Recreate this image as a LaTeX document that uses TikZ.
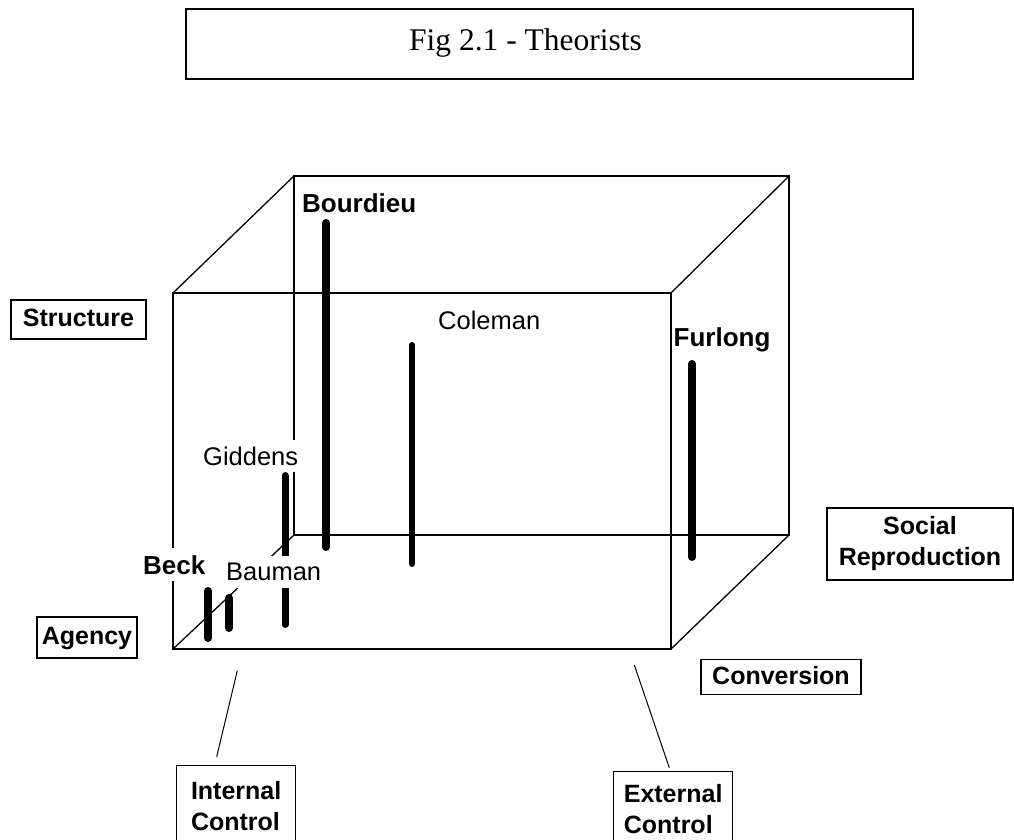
\documentclass[tikz,border=0pt]{standalone}
\usepackage{fontspec}
\setmainfont{Liberation Serif}
\newfontfamily\arialf{Liberation Sans}
\begin{document}
\begin{tikzpicture}[x=1pt,y=-1pt,
  edge/.style={line width=1.3pt},
  bar/.style={line width=8pt, line cap=round},
  conn/.style={line width=1pt},
  boxlab/.style={draw, line width=1.3pt, fill=white, inner sep=0pt,
    font=\arialf\bfseries\fontsize{25}{33}\selectfont, text height=18pt, text depth=4pt},
  multilab/.style={draw, line width=1.3pt, fill=white, inner sep=0pt, align=left,
    font=\arialf\bfseries\fontsize{25}{31}\selectfont},
  thbold/.style={fill=white, inner xsep=1pt, inner ysep=7pt, anchor=base west,
    font=\arialf\bfseries\fontsize{26}{28}\selectfont},
  threg/.style={fill=white, inner xsep=1pt, inner ysep=7pt, anchor=base west,
    font=\arialf\fontsize{25.5}{28}\selectfont}]
\useasboundingbox (0,0) rectangle (1014,839);
\clip (0,0) rectangle (1014,839);

% title
\node[draw, line width=1.4pt, minimum width=727pt, minimum height=70pt, inner sep=0pt]
  (titlebox) at (549.5,44) {};
\node[anchor=base, inner sep=0pt, font=\fontsize{31.5}{34}\selectfont] (title) at (525.5,50) {Fig 2.1 - Theorists};

% cube corners
\coordinate (FTL) at (173,293);
\coordinate (FTR) at (671,293);
\coordinate (FBR) at (671,649);
\coordinate (FBL) at (173,649);
\coordinate (BTL) at (294,176);
\coordinate (BTR) at (789,176);
\coordinate (BBR) at (789,535);
\coordinate (BBL) at (294,535);
\draw[edge] (FTL) -- (FTR) -- (FBR) -- (FBL) -- cycle;
\draw[edge] (BTL) -- (BTR) -- (BBR) -- (BBL) -- cycle;
\draw[edge] (FTL) -- (BTL);
\draw[edge] (FTR) -- (BTR);
\draw[edge] (FBR) -- (BBR);
\draw[edge] (FBL) -- (BBL);

% theorist labels
\node[thbold] (bourdieu) at (301,212) {Bourdieu};
\node[threg]  (coleman)  at (437,329) {Coleman};
\node[thbold] (furlong)  at (672.5,346.5) {Furlong};
\node[threg]  (giddens)  at (202,465) {Giddens};
\node[thbold] (beck)     at (142,574) {Beck};

% bars
\draw[bar] (326,223) -- (326,547);
\draw[bar, line width=6pt] (412,345) -- (412,564);
\draw[bar] (692,364) -- (692,557);
\draw[bar, line width=7pt] (285,475.5) -- (285,624.5);
\draw[bar] (208,591) -- (208,638);
\draw[bar] (229,598) -- (229,628);

\node[threg] (bauman) at (225,580.5) {Bauman};

% axis labels
\node[boxlab, minimum width=135pt, minimum height=39pt] (structure) at (78.5,319.5) {Structure};
\node[boxlab, minimum width=100pt, minimum height=41pt] (agency) at (87,637.5) {Agency};
\node[boxlab, minimum width=160pt, minimum height=35pt] (conversion) at (781,677) {Conversion};
\node[multilab, align=center, minimum width=186pt, minimum height=72pt] (socrep) at (920,544) {Social\\Reproduction};
\node[multilab, anchor=north west, minimum width=119pt, minimum height=80pt] (intctrl) at (176,765) {Internal\\Control};
\node[multilab, anchor=north west, minimum width=119pt, minimum height=74pt] (extctrl) at (613,771) {External\\Control};

% connectors
\coordinate (ic1) at (237.3,670.7);
\coordinate (ic2) at (216.7,756.7);
\coordinate (ec1) at (634.3,665);
\coordinate (ec2) at (669.3,767.7);
\draw[conn] (ic1) -- (ic2);
\draw[conn] (ec1) -- (ec2);
\end{tikzpicture}
\end{document}
